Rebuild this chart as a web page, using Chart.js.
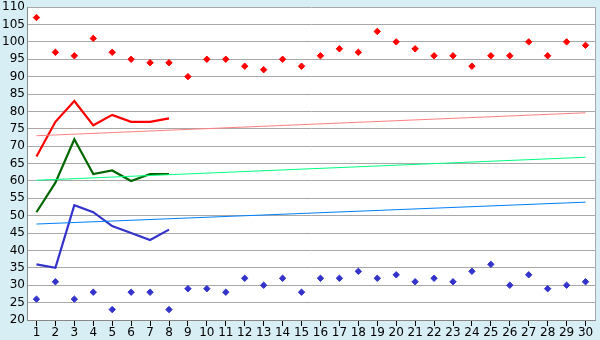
<!DOCTYPE html>
<html>
<head>
<meta charset="utf-8">
<script src="https://cdn.jsdelivr.net/npm/chart.js@4.4.1/dist/chart.umd.min.js"></script>
<style>
  html, body { margin: 0; padding: 0; background: #d8eef5; }
  #wrap { width: 600px; height: 340px; }
</style>
</head>
<body>
<div id="wrap"><canvas id="grafica"></canvas></div>
<script>
// dias 1..30
const dias = Array.from({ length: 30 }, (_, i) => String(i + 1));

// puntos sueltos
const puntosRojos = [107, 97, 96, 101, 97, 95, 94, 94, 90, 95, 95, 93, 92, 95, 93, 96, 98, 97, 103, 100, 98, 96, 96, 93, 96, 96, 100, 96, 100, 99];
const puntosAzules = [26, 31, 26, 28, 23, 28, 28, 23, 29, 29, 28, 32, 30, 32, 28, 32, 32, 34, 32, 33, 31, 32, 31, 34, 36, 30, 33, 29, 30, 31];

// lineas de los primeros 8 dias
const lineaRoja = [67, 77, 83, 76, 79, 77, 77, 78];
const lineaVerde = [51, 59.5, 72, 62, 63, 60, 62, 62];
const lineaAzul = [36, 35, 53, 51, 47, 45, 43, 46];

// tendencias (valor en dia 1 y dia 30)
const tendRoja = [73, 79.6];
const tendVerde = [60.2, 66.8];
const tendAzul = [47.6, 53.9];

const yTicks = [20, 110, 5]; // min, max, paso

function extremos(par) {
  const arr = new Array(30).fill(null);
  arr[0] = par[0];
  arr[29] = par[1];
  return arr;
}

const fondo = {
  id: "fondo",
  beforeDraw(chart) {
    const { ctx, chartArea: a } = chart;
    ctx.save();
    ctx.fillStyle = "#d8eef5";
    ctx.fillRect(0, 0, chart.width, chart.height);
    ctx.fillStyle = "#ffffff";
    ctx.fillRect(a.left, a.top, a.right - a.left, a.bottom - a.top);
    ctx.restore();
  },
  afterDatasetsDraw(chart) {
    const { ctx, chartArea: a } = chart;
    ctx.save();
    ctx.strokeStyle = "#a8a8a8";
    ctx.lineWidth = 1;
    ctx.beginPath();
    ctx.moveTo(Math.round(a.right) + 0.5, a.top);
    ctx.lineTo(Math.round(a.right) + 0.5, a.bottom);
    ctx.stroke();
    ctx.restore();
  }
};

const lineaBase = { pointRadius: 0, fill: false, tension: 0, spanGaps: true };

new Chart(document.getElementById("grafica"), {
  type: "line",
  data: {
    labels: dias,
    datasets: [
      { ...lineaBase, data: extremos(tendRoja), borderColor: "#ff8080", borderWidth: 1 },
      { ...lineaBase, data: extremos(tendVerde), borderColor: "#00ff80", borderWidth: 1 },
      { ...lineaBase, data: extremos(tendAzul), borderColor: "#0080ff", borderWidth: 1 },
      { ...lineaBase, data: lineaRoja, borderColor: "#ff0000", borderWidth: 2.2 },
      { ...lineaBase, data: lineaVerde, borderColor: "#006600", borderWidth: 2.2 },
      { ...lineaBase, data: lineaAzul, borderColor: "#3333cc", borderWidth: 2.2 },
      {
        data: puntosRojos, showLine: false, pointStyle: "rectRot", pointRadius: 3.2,
        pointBackgroundColor: "#ff0000", pointBorderColor: "#ff0000", pointBorderWidth: 1
      },
      {
        data: puntosAzules, showLine: false, pointStyle: "rectRot", pointRadius: 3.2,
        pointBackgroundColor: "#3333cc", pointBorderColor: "#3333cc", pointBorderWidth: 1
      }
    ]
  },
  options: {
    responsive: true,
    maintainAspectRatio: false,
    animation: false,
    layout: { padding: { top: 0, right: 4, left: 0, bottom: 0 } },
    plugins: {
      legend: { display: false },
      tooltip: { enabled: false }
    },
    scales: {
      x: {
        offset: true,
        afterFit: s => { s.height = 20; },
        grid: {
          offset: false,
          drawOnChartArea: false,
          tickLength: 6,
          color: "#000000"
        },
        border: { color: "#888888" },
        ticks: {
          color: "#000000",
          padding: 0,
          maxRotation: 0,
          autoSkip: false,
          font: { family: "DejaVu Sans", size: 12 }
        }
      },
      y: {
        min: yTicks[0],
        max: yTicks[1],
        afterFit: s => { s.width = 27; },
        grid: { color: "#a8a8a8", drawTicks: false },
        border: { color: "#888888" },
        ticks: {
          stepSize: yTicks[2],
          autoSkip: false,
          color: "#000000",
          padding: 2,
          font: { family: "DejaVu Sans", size: 12, lineHeight: 0.85 }
        }
      }
    }
  },
  plugins: [fondo]
});
</script>
</body>
</html>
